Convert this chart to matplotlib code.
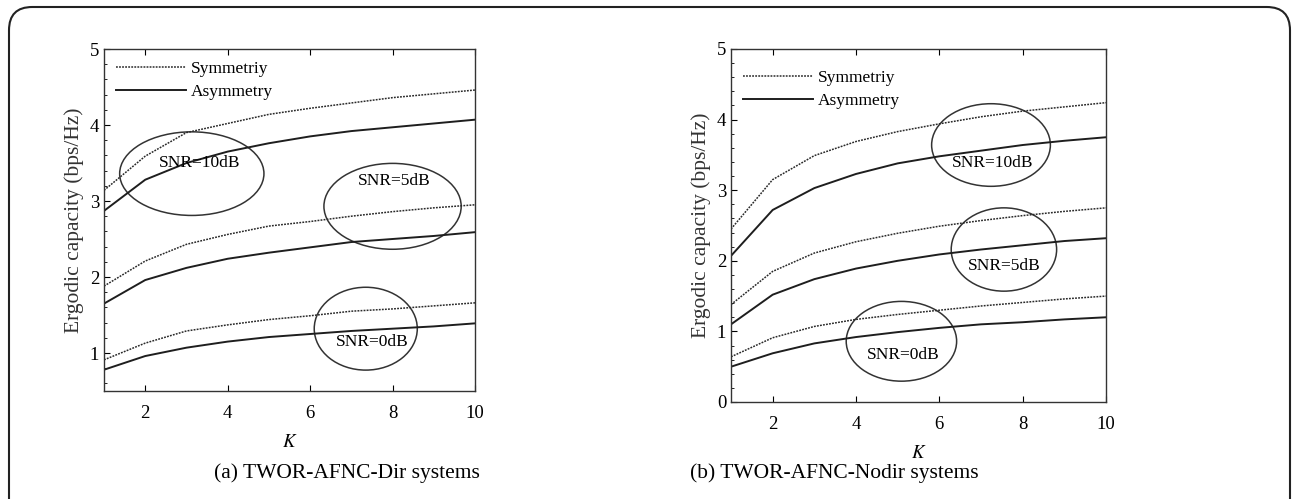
import numpy as np
import matplotlib
matplotlib.use("Agg")
import matplotlib.pyplot as plt
from matplotlib.patches import Ellipse, FancyBboxPatch
from matplotlib.ticker import MultipleLocator

plt.rcParams["font.family"] = ["Liberation Serif", "DejaVu Serif"]
plt.rcParams["mathtext.fontset"] = "stix"

K = [1, 2, 3, 4, 5, 6, 7, 8, 9, 10]

# (a) TWOR-AFNC-Dir
dir_sym_10 = [3.14, 3.59, 3.90, 4.02, 4.14, 4.22, 4.29, 4.36, 4.41, 4.46]
dir_asym_10 = [2.87, 3.28, 3.50, 3.65, 3.76, 3.85, 3.92, 3.97, 4.02, 4.07]
dir_sym_5 = [1.88, 2.21, 2.43, 2.56, 2.67, 2.73, 2.80, 2.86, 2.91, 2.95]
dir_asym_5 = [1.65, 1.96, 2.12, 2.24, 2.32, 2.39, 2.46, 2.50, 2.54, 2.59]
dir_sym_0 = [0.91, 1.13, 1.29, 1.37, 1.44, 1.49, 1.55, 1.58, 1.62, 1.66]
dir_asym_0 = [0.78, 0.96, 1.07, 1.15, 1.21, 1.25, 1.29, 1.32, 1.35, 1.39]

# (b) TWOR-AFNC-Nodir
nodir_sym_10 = [2.45, 3.15, 3.49, 3.69, 3.83, 3.94, 4.04, 4.12, 4.18, 4.24]
nodir_asym_10 = [2.07, 2.72, 3.03, 3.23, 3.38, 3.48, 3.56, 3.64, 3.70, 3.75]
nodir_sym_5 = [1.38, 1.85, 2.11, 2.27, 2.39, 2.49, 2.57, 2.64, 2.70, 2.75]
nodir_asym_5 = [1.10, 1.52, 1.74, 1.89, 2.00, 2.09, 2.16, 2.22, 2.28, 2.32]
nodir_sym_0 = [0.64, 0.91, 1.07, 1.17, 1.24, 1.30, 1.36, 1.41, 1.46, 1.50]
nodir_asym_0 = [0.50, 0.69, 0.83, 0.92, 0.99, 1.05, 1.10, 1.13, 1.17, 1.20]

snr_labels = ["SNR=10dB", "SNR=5dB", "SNR=0dB"]
# ellipse (cx, cy, w, h) and label (x, y) per SNR, in data units
dir_ell = [(3.13, 3.36, 3.5, 1.10), (8.0, 2.93, 3.33, 1.13), (7.35, 1.32, 2.5, 1.09)]
dir_txt = [(3.31, 3.50), (8.03, 3.26), (7.5, 1.15)]
nodir_ell = [(7.24, 3.64, 2.85, 1.17), (7.55, 2.16, 2.53, 1.18), (5.09, 0.86, 2.65, 1.13)]
nodir_txt = [(7.29, 3.39), (7.55, 1.93), (5.13, 0.67)]


def draw_panel(ax, sym, asym, ells, txts, ylim, caption, cap_x, leg_y):
    for s, a in zip(sym, asym):
        ax.plot(K, s, ls=(0, (1.2, 0.8)), lw=1.1, c="#2a2a2a")
        ax.plot(K, a, ls="-", lw=1.4, c="#1e1e1e")
    for (cx, cy, w, h), (tx, ty), lab in zip(ells, txts, snr_labels):
        ax.add_patch(Ellipse((cx, cy), w, h, fill=False, ec="#333333", lw=1.1))
        ax.text(tx, ty, lab, ha="center", va="center", fontsize=12.5)
    ax.set_xlim(1, 10)
    ax.set_ylim(*ylim)
    ax.set_xticks([2, 4, 6, 8, 10])
    ax.yaxis.set_major_locator(MultipleLocator(1))
    ax.yaxis.set_minor_locator(MultipleLocator(0.2))
    ax.tick_params(axis="x", direction="in", top=True, labelsize=13.5, pad=10, length=4)
    ax.tick_params(axis="y", which="major", direction="in", labelsize=13.5, length=4)
    ax.tick_params(axis="y", which="minor", direction="in", length=2.5)
    ax.set_xlabel("$K$", fontsize=13.5, labelpad=9)
    ax.set_ylabel("Ergodic capacity (bps/Hz)", fontsize=15.5, color="#333333")
    for sp in ax.spines.values():
        sp.set_linewidth(1.0)
        sp.set_color("#333333")
    h1, = ax.plot([], [], ls=(0, (1.2, 0.8)), lw=1.1, c="#2a2a2a")
    h2, = ax.plot([], [], ls="-", lw=1.4, c="#1e1e1e")
    ax.legend([h1, h2], ["Symmetriy", "Asymmetry"], loc="upper left",
              bbox_to_anchor=(0.0, leg_y), frameon=False, fontsize=12.5,
              handlelength=4.0, handletextpad=0.3, labelspacing=0.4,
              borderaxespad=0.3)
    ax.figure.text(cap_x, 0.052, caption, ha="center", va="center", fontsize=15.5)


fig = plt.figure(figsize=(12.92, 4.99), dpi=100)
border = FancyBboxPatch((9 / 1292, -0.2), 1281 / 1292, 1.2 - 7 / 499,
                        boxstyle="round,pad=0,rounding_size=0.018",
                        transform=fig.transFigure, fill=False, ec="#222222", lw=1.5,
                        mutation_aspect=1292 / 499)
fig.patches.append(border)

ax1 = fig.add_axes([104 / 1292, 1 - 391 / 499, 371 / 1292, 342 / 499])
ax2 = fig.add_axes([731 / 1292, 1 - 402 / 499, 375 / 1292, 353 / 499])

draw_panel(ax1, [dir_sym_10, dir_sym_5, dir_sym_0], [dir_asym_10, dir_asym_5, dir_asym_0],
           dir_ell, dir_txt, (0.5, 5), "(a) TWOR-AFNC-Dir systems", 347 / 1292, 1.0)
draw_panel(ax2, [nodir_sym_10, nodir_sym_5, nodir_sym_0], [nodir_asym_10, nodir_asym_5, nodir_asym_0],
           nodir_ell, nodir_txt, (0, 5), "(b) TWOR-AFNC-Nodir systems", 834 / 1292, 0.975)

fig.savefig("out.png", dpi=100)
